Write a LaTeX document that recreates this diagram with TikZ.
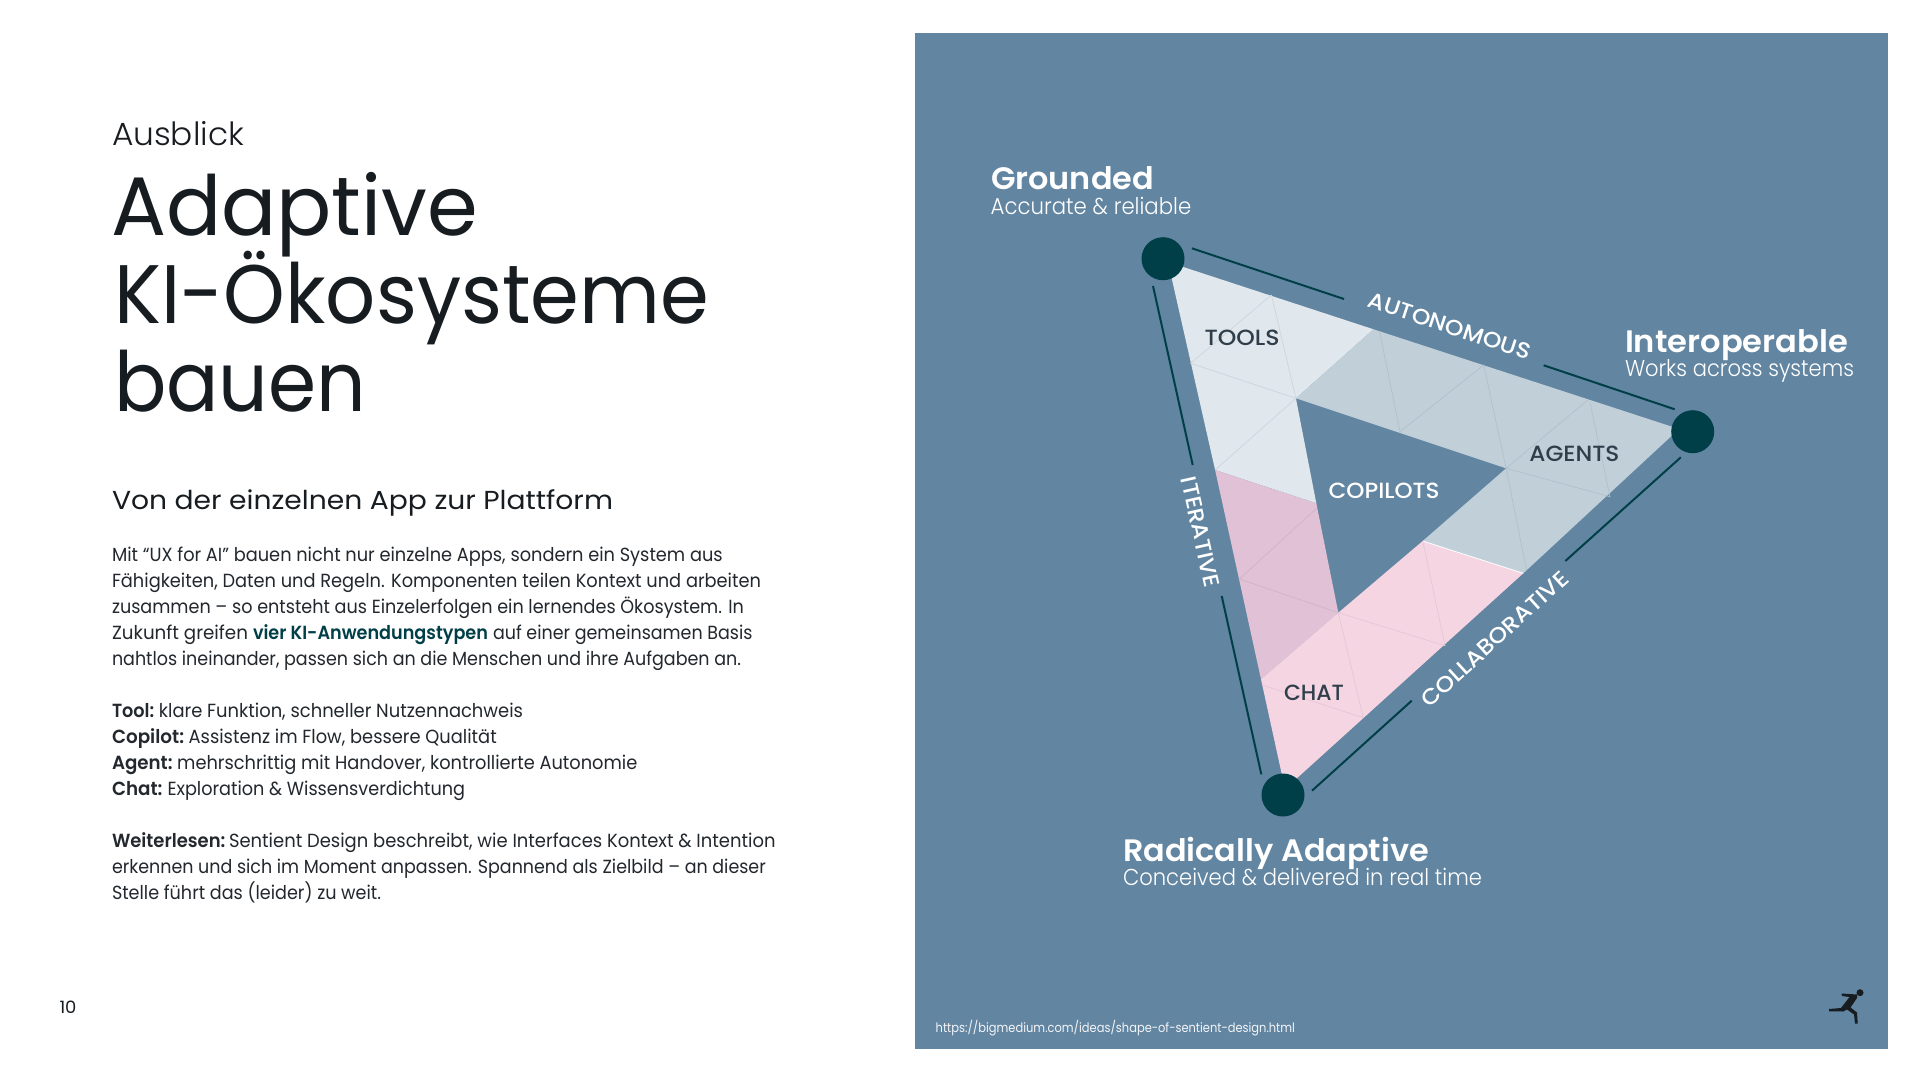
\documentclass[tikz,border=0pt]{standalone}
\usepackage{graphicx}
\usepackage{fontspec}
\setmainfont{Poppins}[BoldFont=* SemiBold]
\newfontfamily\lightfont{Poppins Light}
\newfontfamily\medfont{Poppins Medium}
\newfontfamily\semifont{Poppins SemiBold}
\newlength\fitlen
\newcommand\fitw[2]{\setlength\fitlen{#1pt}\setlength\fitlen{0.5\fitlen}\resizebox{\fitlen}{\height}{#2}}
\definecolor{panel}{HTML}{6285A1}
\definecolor{teal}{HTML}{003F48}
\definecolor{ink}{HTML}{171C21}
\definecolor{bodyink}{HTML}{22282D}
\definecolor{labelink}{HTML}{2F3E4A}
\definecolor{toolsfill}{HTML}{E0E7ED}
\definecolor{toolsgrid}{HTML}{CDD6DE}
\definecolor{agentsfill}{HTML}{C0CFD8}
\definecolor{agentsgrid}{HTML}{B1C1CC}
\definecolor{plumfill}{HTML}{E0C1D5}
\definecolor{plumgrid}{HTML}{D0B4C9}
\definecolor{chatfill}{HTML}{F5D5E2}
\definecolor{chatgrid}{HTML}{E4C6D6}
\tikzset{
  txt/.style={inner sep=0pt,outer sep=0pt,anchor=base west,text=bodyink,font=\fontsize{9.5pt}{11pt}\selectfont},
  onpanel/.style={txt,text=white},
  headl/.style={onpanel,font=\semifont\fontsize{15.5pt}{18pt}\selectfont},
  subl/.style={onpanel,font=\lightfont\fontsize{11.5pt}{13pt}\selectfont},
  tlabel/.style={inner sep=0pt,outer sep=0pt,anchor=base west,text=labelink,font=\medfont\fontsize{11pt}{13pt}\selectfont},
  axislabel/.style={inner sep=0pt,outer sep=0pt,anchor=center,text=white,font=\medfont\fontsize{11pt}{13pt}\selectfont},
  axisline/.style={draw=teal,line width=1pt},
  vertexdot/.style={circle,fill=teal,minimum size=21.5pt,inner sep=0pt,outer sep=0pt},
  gridline/.style={line width=0.35pt},
}
\begin{document}
\begin{tikzpicture}[x=0.5pt,y=-0.5pt]
\useasboundingbox (0,0) rectangle (1920,1080);
\fill[white] (0,0) rectangle (1920,1080);
\fill[panel] (914.7,33) rectangle (1888.3,1049);

% Triangle key points
\coordinate (A) at (1168,262);
\coordinate (B) at (1679,429);
\coordinate (C) at (1285,789);
\coordinate (I1) at (1295.9,398.3);
\coordinate (I2) at (1506.1,468.3);
\coordinate (I3) at (1338.3,612.7);
\coordinate (TopSplit) at (1373.5,329.3);
\coordinate (LeftSplitA) at (1215.1,470);
\coordinate (LeftSplitB) at (1261,679.3);
\coordinate (InnerSplit) at (1316.3,503.3);
\coordinate (InnerSplitC) at (1422.7,541);
\coordinate (RightSplit) at (1523.3,573.3);

\fill[toolsfill] (A) -- (TopSplit) -- (I1) -- (InnerSplit) -- (LeftSplitA) -- cycle;
\fill[agentsfill] (TopSplit) -- (B) -- (RightSplit) -- (InnerSplitC) -- (I2) -- (I1) -- cycle;
\fill[plumfill] (LeftSplitA) -- (InnerSplit) -- (I3) -- (LeftSplitB) -- cycle;
\fill[chatfill] (LeftSplitB) -- (I3) -- (InnerSplitC) -- (RightSplit) -- (C) -- cycle;
\draw[draw=white,line width=0.4pt] (InnerSplitC) -- (RightSplit);

% Triangle grid lines
\draw[gridline,draw=toolsgrid] (1271.4,295) -- (1190.6,363.3) -- (I1) -- (1271.4,295);
\draw[gridline,draw=toolsgrid] (I1) -- (LeftSplitA);
\draw[gridline,draw=agentsgrid] (1379.6,331.7) -- (1400,431.7) -- (1483.7,365) -- (I2) -- (1587.8,400);
\draw[gridline,draw=agentsgrid] (1589.8,401.7) -- (1610,496.7) -- (I2) -- (1526.5,570);
\draw[gridline,draw=plumgrid] (1316.7,508.3) -- (1239.3,579) -- (I3);
\draw[gridline,draw=chatgrid] (InnerSplitC) -- (1445,645.7) -- (I3) -- (1363.3,717.7) -- (1262.3,685);

% Vertices
\node[vertexdot] (grounded) at (1163,258.7) {};
\node[vertexdot] (interop) at (1692.7,431.7) {};
\node[vertexdot] (radical) at (1283,795) {};

% Axis labels
\node[axislabel,rotate=-18.2] (autonomous) at (1449.5,326) {\fitw{170}{AUTONOMOUS}};
\node[axislabel,rotate=-77.5] (iterative) at (1200.5,532) {\fitw{112}{ITERATIVE}};
\node[axislabel,rotate=42.3] (collaborative) at (1495,639) {\fitw{190}{COLLABORATIVE}};

% Axis lines
\coordinate (au1) at (1191.8,248.3);
\coordinate (au2) at (1344,299);
\coordinate (au3) at (1543.7,365.3);
\coordinate (au4) at (1674.7,409.3);
\coordinate (it1) at (1153,286);
\coordinate (it2) at (1192.7,465);
\coordinate (it3) at (1221.7,596);
\coordinate (it4) at (1261.3,774.3);
\coordinate (co1) at (1312,790.7);
\coordinate (co2) at (1411.7,700.7);
\coordinate (co3) at (1565.3,561);
\coordinate (co4) at (1680.8,457.3);
\draw[axisline] (au1) -- (au2);
\draw[axisline] (au3) -- (au4);
\draw[axisline] (it1) -- (it2);
\draw[axisline] (it3) -- (it4);
\draw[axisline] (co1) -- (co2);
\draw[axisline] (co3) -- (co4);

% Region labels
\node[tlabel] (tools) at (1204.5,346) {\fitw{75}{TOOLS}};
\node[tlabel] (agents) at (1529.4,461.7) {\fitw{90}{AGENTS}};
\node[tlabel,text=white] (copilots) at (1328.6,498.3) {\fitw{111}{COPILOTS}};
\node[tlabel] (chat) at (1284,700.3) {\fitw{60}{CHAT}};

% Corner captions
\node[headl] (groundedh) at (991,189.3) {\fitw{163}{Grounded}};
\node[subl] (groundeds) at (990.7,215) {\fitw{200.5}{Accurate \& reliable}};
\node[headl] (interoph) at (1625,352.6) {\fitw{223}{Interoperable}};
\node[subl] (interops) at (1625,377) {\fitw{229}{Works across systems}};
\node[headl] (radicalh) at (1123,861) {\fitw{306}{Radically Adaptive}};
\node[subl] (radicals) at (1123,885.5) {\fitw{359}{Conceived \& delivered in real time}};

% Source and logo
\node[onpanel,font=\fontsize{6.5pt}{8pt}\selectfont,text=white!92!panel] (source) at (935.7,1032) {\fitw{359.3}{https://bigmedium.com/ideas/shape-of-sentient-design.html}};
\fill[ink] (1860,992.7) circle[radius=3.5];
\fill[ink] (1841.5,993.5) -- (1857,994.5) -- (1857,998) -- (1850.5,1007.5) -- (1857,1012.5) -- (1857.7,1023.5) -- (1855,1023.5) -- (1854,1014.5) -- (1847,1009.5) -- (1843,1011.5) -- (1829,1011.3) -- (1829,1009) -- (1841,1008) -- (1849.5,997) -- (1842,996) -- cycle;

% Left column
\node[txt,font=\lightfont\fontsize{16pt}{18pt}\selectfont,text=ink] (kicker) at (112,146) {\fitw{132}{Ausblick}};
\node[txt,font=\fontsize{41.5pt}{44pt}\selectfont,text=ink] (title1) at (111,236) {\fitw{367}{Adaptive}};
\node[txt,font=\fontsize{41.5pt}{44pt}\selectfont,text=ink] (title2) at (114,323.7) {\fitw{595}{KI-Ökosysteme}};
\node[txt,font=\fontsize{41.5pt}{44pt}\selectfont,text=ink] (title3) at (114,411.7) {\fitw{252}{bauen}};
\node[txt,font=\fontsize{13pt}{15pt}\selectfont,text=ink] (subtitle) at (112,509) {\fitw{501}{Von der einzelnen App zur Plattform}};

\node[txt] (b1) at (112,561.7) {\fitw{610.7}{Mit “UX for AI” bauen nicht nur einzelne Apps, sondern ein System aus}};
\node[txt] (b2) at (112,587.7) {\fitw{649}{Fähigkeiten, Daten und Regeln. Komponenten teilen Kontext und arbeiten}};
\node[txt] (b3) at (112,613.3) {\fitw{631.8}{zusammen – so entsteht aus Einzelerfolgen ein lernendes Ökosystem. In}};
\node[txt] (b4) at (112,639.3) {\fitw{136}{Zukunft greifen}\hspace*{2.5pt}\fitw{235}{\bfseries\color{teal}vier KI-Anwendungstypen}\hspace*{2.5pt}\fitw{259.5}{auf einer gemeinsamen Basis}};
\node[txt] (b5) at (112,665) {\fitw{629}{nahtlos ineinander, passen sich an die Menschen und ihre Aufgaben an.}};
\node[txt] (l1) at (112,717.7) {\fitw{42.3}{\bfseries Tool:}\hspace*{2.3pt}\fitw{364.1}{klare Funktion, schneller Nutzennachweis}};
\node[txt] (l2) at (112,743.3) {\fitw{72.1}{\bfseries Copilot:}\hspace*{2.3pt}\fitw{308.1}{Assistenz im Flow, bessere Qualität}};
\node[txt] (l3) at (112,769) {\fitw{60.6}{\bfseries Agent:}\hspace*{2.3pt}\fitw{460.1}{mehrschrittig mit Handover, kontrollierte Autonomie}};
\node[txt] (l4) at (112,795) {\fitw{50.5}{\bfseries Chat:}\hspace*{2.5pt}\fitw{297.6}{Exploration \& Wissensverdichtung}};
\node[txt] (w1) at (112,847.3) {\fitw{113.4}{\bfseries Weiterlesen:}\hspace*{1.8pt}\fitw{546.5}{Sentient Design beschreibt, wie Interfaces Kontext \& Intention}};
\node[txt] (w2) at (112,873.3) {\fitw{653.8}{erkennen und sich im Moment anpassen. Spannend als Zielbild – an dieser}};
\node[txt] (w3) at (112,899) {\fitw{269}{Stelle führt das (leider) zu weit.}};
\node[txt,font=\fontsize{8.5pt}{10pt}\selectfont,text=ink] (pageno) at (59.5,1013) {\fitw{17}{10}};
\end{tikzpicture}
\end{document}
